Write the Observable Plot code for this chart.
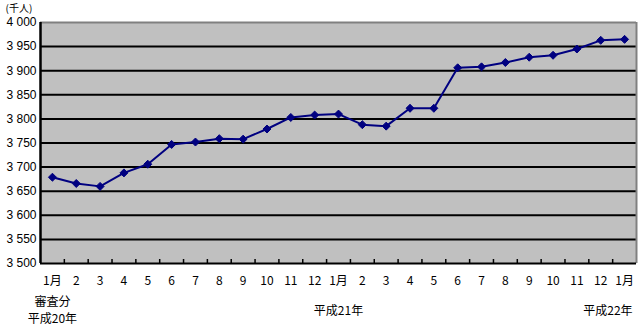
<!DOCTYPE html>
<html><head><meta charset="utf-8">
<script src="https://cdn.jsdelivr.net/npm/d3@7"></script>
<script src="https://cdn.jsdelivr.net/npm/@observablehq/plot@0.6"></script>
<style>
body{margin:0;background:#fff;}
#chart{width:638px;height:325px;}
</style></head><body><div id="chart"></div>
<script>
const monthLabels = ["1月","2","3","4","5","6","7","8","9","10","11","12","1月","2","3","4","5","6","7","8","9","10","11","12","1月"];
const values = [3679,3666,3660,3688,3706,3747,3752,3759,3758,3779,3803,3808,3810,3788,3785,3822,3822,3906,3908,3917,3928,3932,3945,3963,3965];
const yearLabels = ["審査分\n平成20年","平成21年","平成22年"];
const yearIndex = [0,12,24];
const yTicks = [3500,3550,3600,3650,3700,3750,3800,3850,3900,3950,4000];
const unitLabel = "(千人)";

const data = values.map((v,i)=>({i, v}));
const idx = d3.range(monthLabels.length);
const bounds = d3.range(monthLabels.length - 1).map(i => i + 0.5);
const n = monthLabels.length;
const fmt = d => d3.format(",")(d).replace(",", " ");

const plot = Plot.plot({
  width: 638, height: 325,
  marginTop: 22, marginBottom: 62, marginLeft: 40, marginRight: 2,
  style: {fontFamily: "'Noto Sans CJK JP', sans-serif", fontSize: "12px", background: "#fff", color: "#000", overflow: "visible"},
  x: {type: "linear", domain: [-0.5, n - 0.5], axis: null},
  y: {domain: [3500, 4000], axis: null},
  marks: [
    Plot.frame({fill: "#c0c0c0", stroke: null}),
    Plot.ruleY(yTicks.slice(1, -1), {stroke: "#000", strokeWidth: 2}),
    Plot.ruleY([yTicks[yTicks.length - 1]], {stroke: "#808080", strokeWidth: 2}),
    Plot.ruleX([n - 0.5], {stroke: "#808080", strokeWidth: 2}),
    Plot.ruleX([-0.5], {stroke: "#000", strokeWidth: 2.5}),
    Plot.ruleY([yTicks[0]], {stroke: "#000", strokeWidth: 2}),
    Plot.ruleX(bounds, {stroke: "#000", strokeWidth: 1.5, insetTop: 237}),
    Plot.axisY({ticks: yTicks, tickSize: 0, tickPadding: 4, tickFormat: fmt, label: null, fontFamily: "'Liberation Sans', sans-serif"}),
    Plot.axisX({ticks: idx, tickSize: 0, tickPadding: 13, tickFormat: i => monthLabels[i], label: null}),
    Plot.line(data, {x: "i", y: "v", stroke: "#000080", strokeWidth: 2}),
    Plot.dot(data, {x: "i", y: "v", symbol: "diamond2", r: 3.6, fill: "#000080", stroke: "#000080", strokeWidth: 1}),
    Plot.text([yearIndex[0]], {x: d => d, text: () => yearLabels[0], frameAnchor: "bottom", lineAnchor: "top", dy: 31, lineHeight: 1.38}),
    Plot.text([yearIndex[1]], {x: d => d, text: () => yearLabels[1], frameAnchor: "bottom", lineAnchor: "top", dy: 43}),
    Plot.text([yearIndex[2]], {x: d => d, text: () => yearLabels[2], frameAnchor: "bottom", lineAnchor: "top", dy: 43, textAnchor: "end", dx: 8}),
    Plot.text([unitLabel], {text: d => d, frameAnchor: "top-left", textAnchor: "start", lineAnchor: "middle", fontSize: 10, dx: -35, dy: -13.6})
  ]
});
document.getElementById("chart").append(plot);
</script></body></html>
